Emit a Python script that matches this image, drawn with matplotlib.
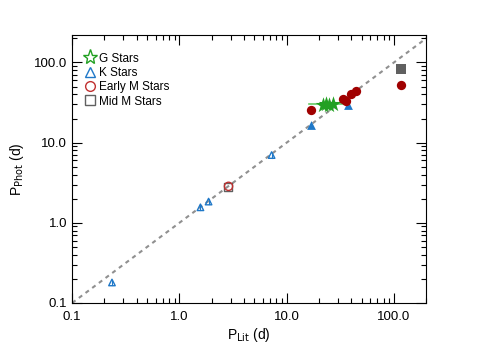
import matplotlib
matplotlib.use("Agg")
import matplotlib.pyplot as plt
from matplotlib.ticker import FixedLocator, FixedFormatter, LogLocator, NullFormatter
from matplotlib.lines import Line2D

plt.rcParams['font.family'] = ['Liberation Sans', 'DejaVu Sans']

# G stars
g_lit = [21.7, 23.5, 25.0, 26.9]
g_phot = [29.5, 30.5, 29.8, 30.2]
g_err_lo = 16.3
g_err_hi = 37.3
# K stars (open, small)
k_lit = [0.235, 1.57, 1.87, 7.24]
k_phot = [0.18, 1.56, 1.84, 7.0]
# K stars (filled, large)
kf_lit = [16.7, 37.3]
kf_phot = [16.5, 29.5]
# Early M stars
em_lit = [16.7, 33.3, 35.6, 39.6, 44.4, 116.0]
em_phot = [25.5, 35.5, 33.0, 40.5, 44.0, 53.0]
em_open_lit = [2.87]
em_open_phot = [2.85]
# Mid M stars
mm_lit = [116.0]
mm_phot = [84.0]
mm_open_lit = [2.85]
mm_open_phot = [2.82]

ticks = [0.1, 1.0, 10.0, 100.0]
tick_labels = ["0.1", "1.0", "10.0", "100.0"]

fig = plt.figure(figsize=(4.91, 3.47), dpi=100)
ax = fig.add_axes([0.147, 0.127, 0.721, 0.772])
ax.set_xscale('log')
ax.set_yscale('log')
ax.set_xlim(0.1, 200)
ax.set_ylim(0.1, 220)

ax.plot([0.1, 300], [0.1, 300], ls=(0, (2, 2)), color='#909090', lw=1.5, zorder=1)

blue = '#1f78c8'
red = '#a00000'
green = '#22a022'
gray = '#606060'

ax.plot([g_err_lo, g_err_hi], [30, 30], color='#66cc66', lw=1.2, zorder=2)
ax.scatter(g_lit, g_phot, marker='*', s=140, color=green, zorder=4, linewidths=0)
ax.scatter(k_lit, k_phot, marker='^', s=22, facecolors='none', edgecolors=blue, linewidths=1.0, zorder=3)
for x, y in zip(k_lit, k_phot):
    ax.plot([x, x], [y * 0.93, y * 1.07], color=blue, lw=0.8, zorder=3)
ax.scatter(kf_lit, kf_phot, marker='^', s=40, color=blue, zorder=3, linewidths=0)
ax.scatter(em_lit, em_phot, marker='o', s=45, color=red, zorder=5, linewidths=0)
ax.scatter(mm_open_lit, mm_open_phot, marker='s', s=35, facecolors='none', edgecolors=gray, linewidths=1.0, zorder=3)
ax.scatter(em_open_lit, em_open_phot, marker='o', s=35, facecolors='none', edgecolors='#c03030', linewidths=1.0, zorder=4)
ax.scatter(mm_lit, mm_phot, marker='s', s=45, color=gray, zorder=3, linewidths=0)

for axis in (ax.xaxis, ax.yaxis):
    axis.set_major_locator(FixedLocator(ticks))
    axis.set_major_formatter(FixedFormatter(tick_labels))
    axis.set_minor_locator(LogLocator(base=10, subs=range(2, 10)))
    axis.set_minor_formatter(NullFormatter())
ax.tick_params(which='both', direction='in', top=True, right=True, labelsize=9.5)
ax.tick_params(which='major', length=7, width=0.8)
ax.tick_params(which='minor', length=3.5, width=0.8)
ax.tick_params(axis='x', pad=6)

ax.set_xlabel(r'P$_{\mathrm{Lit}}$ (d)', fontsize=10, labelpad=2)
ax.set_ylabel(r'P$_{\mathrm{Phot}}$ (d)', fontsize=10, labelpad=6)

handles = [
    Line2D([], [], marker='*', ls='none', markersize=11, markerfacecolor='none', markeredgecolor=green, markeredgewidth=1.0),
    Line2D([], [], marker='^', ls='none', markersize=7, markerfacecolor='none', markeredgecolor=blue, markeredgewidth=1.0),
    Line2D([], [], marker='o', ls='none', markersize=7, markerfacecolor='none', markeredgecolor='#c03030', markeredgewidth=1.0),
    Line2D([], [], marker='s', ls='none', markersize=7, markerfacecolor='none', markeredgecolor=gray, markeredgewidth=1.0),
]
ax.legend(handles, ['G Stars', 'K Stars', 'Early M Stars', 'Mid M Stars'], loc='upper left',
          frameon=False, fontsize=8.5, handletextpad=0.0, labelspacing=0.2,
          borderaxespad=0.4, handlelength=1.5, bbox_to_anchor=(0.0, 0.97))

fig.savefig('out.png', dpi=100)
